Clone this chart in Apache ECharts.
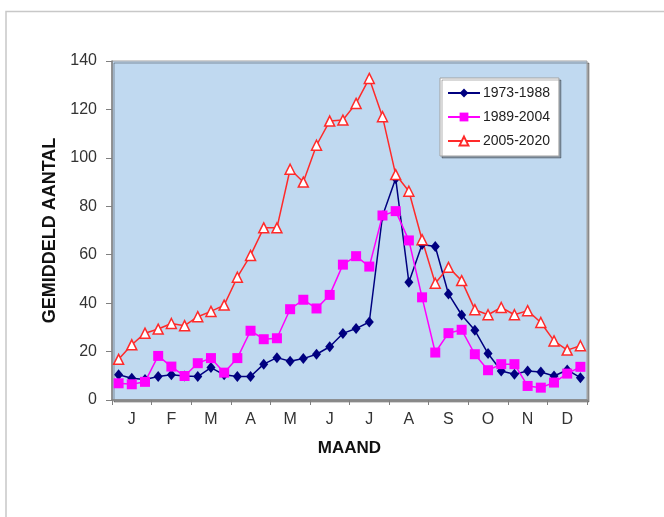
<!DOCTYPE html>
<html>
<head>
<meta charset="utf-8">
<script src="https://cdn.jsdelivr.net/npm/echarts@6/dist/echarts.min.js"></script>
<style>
html,body{margin:0;padding:0;background:#fff;}
#c{width:664px;height:517px;}
</style>
</head>
<body>
<div id="c"></div>
<script>
// Months shown on the axis
var months = ['J','F','M','A','M','J','J','A','S','O','N','D'];
// three decades per month (36 points)
var decades = ['1','2','3'];
// Series values (average counts)
var s1973 = [10.4, 9.0, 8.5, 9.7, 10.4, 9.9, 9.7, 13.4, 10.4, 9.7, 9.7, 14.8,
             17.5, 16.0, 17.1, 18.9, 22.0, 27.5, 29.5, 32.2, 76.0, 91.5, 48.6, 64.2,
             63.4, 43.8, 35.1, 28.8, 19.2, 12.0, 10.6, 12.0, 11.6, 9.9, 12.4, 9.2];
var s1989 = [6.9, 6.5, 7.5, 18.2, 13.8, 9.9, 15.2, 17.3, 11.3, 17.3, 28.6, 25.1,
             25.5, 37.5, 41.4, 37.8, 43.4, 55.9, 59.4, 55.1, 76.2, 78.0, 65.9, 42.4,
             19.6, 27.6, 29.0, 18.9, 12.3, 14.8, 14.8, 5.8, 5.1, 7.2, 10.9, 13.7];
var s2005 = [16.8, 22.8, 27.6, 29.3, 31.6, 30.7, 34.4, 36.6, 39.2, 50.7, 59.7, 71.1,
             71.1, 95.3, 90.0, 105.2, 115.2, 115.6, 122.5, 132.8, 117.0, 93.1, 86.2, 66.2,
             48.2, 54.8, 49.3, 37.3, 35.2, 38.2, 35.2, 36.9, 32.0, 24.4, 20.6, 22.4];
var seriesNames = ['1973-1988','1989-2004','2005-2020'];
var yTicks = {min: 0, max: 140, interval: 20};

var decadeCats = [];
for (var m = 0; m < months.length; m++) {
  for (var d = 0; d < decades.length; d++) decadeCats.push(m + '-' + decades[d]);
}

var font = 'Liberation Sans, Arial, sans-serif';
var chart = echarts.init(document.getElementById('c'), null, {renderer: 'canvas'});
chart.setOption({
  animation: false,
  backgroundColor: '#ffffff',
  textStyle: {fontFamily: font},
  graphic: [{
    type: 'polyline',
    shape: {points: [[6, 520], [6, 11.5], [670, 11.5]]},
    style: {stroke: '#c8c8c8', lineWidth: 1.5, fill: null},
    silent: true
  }],
  grid: {
    left: 112, top: 61, width: 475, height: 339,
    show: true, backgroundColor: '#c0d9f0', borderColor: '#a0a0a0', borderWidth: 1,
    shadowColor: 'rgba(0,0,0,0.35)', shadowOffsetX: 2, shadowOffsetY: 2, shadowBlur: 0
  },
  legend: {
    orient: 'vertical', left: 440, top: 78,
    padding: [8, 9, 8, 7],
    itemWidth: 32, itemHeight: 11, itemGap: 10,
    backgroundColor: '#ffffff', borderColor: '#a0a0a0', borderWidth: 1,
    shadowColor: 'rgba(0,0,0,0.3)', shadowOffsetX: 2, shadowOffsetY: 2, shadowBlur: 0,
    textStyle: {fontFamily: font, fontSize: 14, color: '#222', padding: [0,0,0,-2]},
    data: seriesNames
  },
  xAxis: [{
    type: 'category', data: months, boundaryGap: true, position: 'bottom',
    name: 'MAAND', nameLocation: 'middle', nameGap: 40,
    nameTextStyle: {fontFamily: font, fontSize: 17, fontWeight: 'bold', color: '#111'},
    axisLine: {show: true, lineStyle: {color: '#808080', width: 1.5}},
    axisTick: {show: true, length: 5, interval: 0, lineStyle: {color: '#808080'}},
    axisLabel: {fontFamily: font, fontSize: 16, color: '#333', margin: 12, interval: 0},
    splitLine: {show: false}
  }, {
    type: 'category', data: decadeCats, boundaryGap: true, position: 'bottom',
    show: false
  }],
  yAxis: {
    type: 'value', min: yTicks.min, max: yTicks.max, interval: yTicks.interval,
    name: 'GEMIDDELD AANTAL', nameLocation: 'middle', nameGap: 52,
    nameTextStyle: {fontFamily: font, fontSize: 18, fontWeight: 'bold', color: '#111'},
    axisLine: {show: true, lineStyle: {color: '#808080', width: 1.5}},
    axisTick: {show: true, length: 6, lineStyle: {color: '#808080'}},
    axisLabel: {fontFamily: font, fontSize: 16, color: '#333', margin: 15},
    splitLine: {show: false}
  },
  series: [{
    name: seriesNames[0], type: 'line', xAxisIndex: 1, data: s1973,
    showAllSymbol: true,
    symbol: 'diamond', symbolSize: [9, 11],
    lineStyle: {color: '#000080', width: 1.5},
    itemStyle: {color: '#000080'}
  }, {
    name: seriesNames[1], type: 'line', xAxisIndex: 1, data: s1989,
    showAllSymbol: true,
    symbol: 'rect', symbolSize: 10,
    lineStyle: {color: '#ff00ff', width: 1.5},
    itemStyle: {color: '#ff00ff'}
  }, {
    name: seriesNames[2], type: 'line', xAxisIndex: 1, data: s2005,
    showAllSymbol: true,
    symbol: 'triangle', symbolSize: 10,
    lineStyle: {color: '#ff2a2a', width: 1.5},
    itemStyle: {color: '#ffffff', borderColor: '#ff2a2a', borderWidth: 1.5}
  }]
});
</script>
</body>
</html>
